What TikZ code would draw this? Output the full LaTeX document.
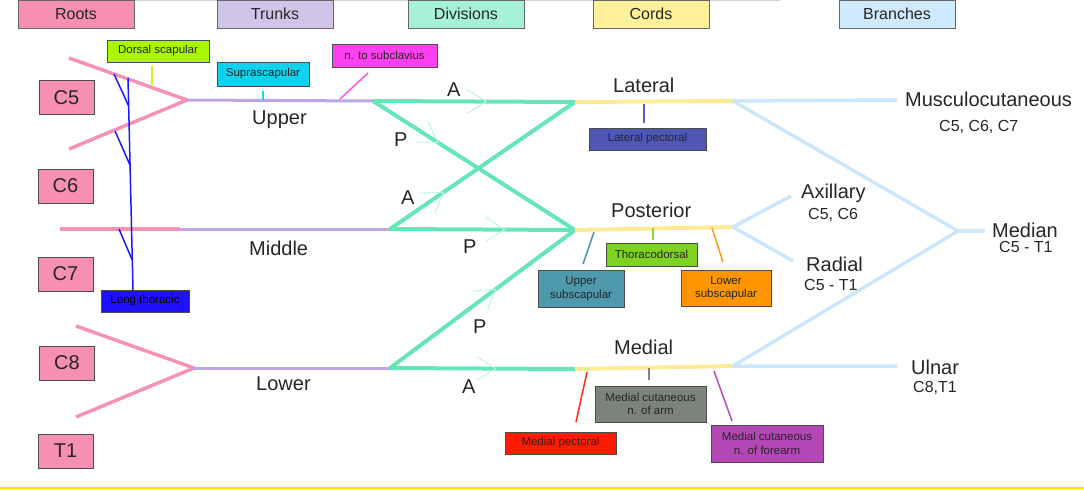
\documentclass[tikz,border=0pt]{standalone}
\usepackage{fontspec}
\setmainfont{Liberation Sans}
\usetikzlibrary{decorations.markings}

\definecolor{rosel}{HTML}{F592B5}
\definecolor{rosef}{HTML}{F78FB3}
\definecolor{mauvel}{HTML}{BBA8E2}
\definecolor{mauvef}{HTML}{D1C4E9}
\definecolor{vertl}{HTML}{66E6B8}
\definecolor{vertf}{HTML}{A6F2D6}
\definecolor{vertc}{HTML}{B9F6DF}
\definecolor{jaunel}{HTML}{FFEA96}
\definecolor{jaunef}{HTML}{FFF09A}
\definecolor{bleul}{HTML}{CCE7FB}
\definecolor{bleuf}{HTML}{CFE9FF}
\definecolor{filet}{HTML}{FFD800}
% nerfs collateraux
\definecolor{dsf}{HTML}{AAF700}
\definecolor{dsl}{HTML}{C8F528}
\definecolor{ssf}{HTML}{10D2EE}
\definecolor{ssl}{HTML}{22D3F0}
\definecolor{subf}{HTML}{FF40F0}
\definecolor{subl}{HTML}{FF55E6}
\definecolor{ltf}{HTML}{2010FF}
\definecolor{ltl}{HTML}{1A1AFF}
\definecolor{lpf}{HTML}{4F56B4}
\definecolor{lpl}{HTML}{5560C0}
\definecolor{tdf}{HTML}{7ED321}
\definecolor{tdl}{HTML}{86D93A}
\definecolor{usf}{HTML}{4E99AC}
\definecolor{usl}{HTML}{4A94AA}
\definecolor{lsf}{HTML}{FF9500}
\definecolor{lsl}{HTML}{FF9A1A}
\definecolor{mpf}{HTML}{FF1A00}
\definecolor{mpl}{HTML}{FF2A1A}
\definecolor{maf}{HTML}{7A847B}
\definecolor{mal}{HTML}{7D8680}
\definecolor{mff}{HTML}{B347B5}
\definecolor{mfl}{HTML}{B64DBE}

\tikzset{
  tete/.style={draw=black!60, line width=0.8pt, minimum width=116pt, minimum height=28pt, inner sep=0pt, font=\fontsize{16}{18}\selectfont, text=black!85},
  racine/.style={draw=black!70, fill=rosef, line width=0.8pt, minimum width=55pt, minimum height=34pt, inner sep=0pt, font=\fontsize{20}{22}\selectfont, text=black!85},
  nerf/.style={draw=black!70, line width=0.8pt, inner sep=0pt, align=center, font=\fontsize{11.5}{13.5}\selectfont, text=black!85},
  grand/.style={inner sep=0pt, anchor=base west, font=\fontsize{20}{22}\selectfont, text=black!85},
  petit/.style={inner sep=0pt, anchor=base west, font=\fontsize{16}{18}\selectfont, text=black!85},
  racl/.style={rosel, line width=3.5pt, line join=round},
  tronc/.style={mauvel, line width=3pt},
  divl/.style={vertl, line width=4pt},
  cordl/.style={jaunel, line width=4pt},
  branl/.style={bleul, line width=3.5pt, line join=round},
  lien/.style={line width=1.5pt},
  chev/.style={postaction={decorate, decoration={markings,
    mark=at position #1 with {\draw[vertc, line width=1pt] (-19pt,12pt) -- (0pt,0pt) -- (-19pt,-12pt);}}}}
}

\begin{document}
\begin{tikzpicture}[x=1pt, y=-1pt]
\useasboundingbox (0,0) rectangle (1084,490);
% filets
\draw[gray!35, line width=1pt] (18,0.5) -- (780,0.5);
\draw[filet, line width=2pt] (0,488) -- (1084,488);

% points de jonction
\coordinate (r5) at (69,58);
\coordinate (r6) at (69,149);
\coordinate (f1) at (187,100);
\coordinate (r7) at (60,229);
\coordinate (f2) at (180,229);
\coordinate (r8) at (76,326);
\coordinate (r1) at (76,417);
\coordinate (f3) at (194,368);
\coordinate (t1) at (373,101);
\coordinate (t2) at (390,229);
\coordinate (t3) at (390,368);
\coordinate (cl) at (575,102);
\coordinate (cp) at (575,230);
\coordinate (cm) at (575,369);
\coordinate (bl) at (733,101);
\coordinate (bp) at (733,227);
\coordinate (bm) at (733,366);
\coordinate (mc) at (897,100);
\coordinate (ax) at (791,196);
\coordinate (ra) at (793,261);
\coordinate (me) at (958,231);
\coordinate (me2) at (985,231);
\coordinate (ul) at (897,366);

% racines et troncs
\draw[racl] (r5) -- (f1) -- (r6);
\draw[racl] (r7) -- (f2);
\draw[racl] (r8) -- (f3) -- (r1);
\draw[tronc] (f1) -- (t1);
\draw[tronc] (f2) -- (t2);
\draw[tronc] (f3) -- (t3);

% divisions
\draw[divl, chev=0.56] (t1) -- (cl);
\draw[divl, chev=0.32] (t1) -- (cp);
\draw[divl, chev=0.29] (t2) -- (cl);
\draw[divl, chev=0.62] (t2) -- (cp);
\draw[divl, chev=0.57] (t3) -- (cp);
\draw[divl, chev=0.57] (t3) -- (cm);

% faisceaux
\draw[cordl] (cl) -- (bl);
\draw[cordl] (cp) -- (bp);
\draw[cordl] (cm) -- (bm);

% branches terminales
\draw[branl] (mc) -- (bl) -- (me);
\draw[branl] (ax) -- (bp) -- (ra);
\draw[branl] (ul) -- (bm) -- (me);
\draw[branl] (me) -- (me2);

% en-tetes
\node[tete, fill=rosef] (hroots) at (76,14) {Roots};
\node[tete, fill=mauvef] (htrunks) at (275,14) {Trunks};
\node[tete, fill=vertf] (hdiv) at (466,14) {Divisions};
\node[tete, fill=jaunef] (hcords) at (651,14) {Cords};
\node[tete, fill=bleuf] (hbranch) at (897,14) {Branches};

% racines
\node[racine] (c5) at (66.5,97.5) {C5};
\node[racine] (c6) at (65.5,186) {C6};
\node[racine] (c7) at (65.5,274) {C7};
\node[racine] (c8) at (67,363) {C8};
\node[racine] (tt1) at (65.5,451) {T1};

% noms des troncs, faisceaux, divisions
\node[grand] (lupper) at (252,124) {Upper};
\node[grand] (lmiddle) at (249,255) {Middle};
\node[grand] (llower) at (256,390) {Lower};
\node[grand] (llat) at (613,92) {Lateral};
\node[grand] (lpost) at (611,217) {Posterior};
\node[grand] (lmed) at (614,354) {Medial};
\node[grand] (da1) at (447,96) {A};
\node[grand] (dp1) at (394,146) {P};
\node[grand] (da2) at (401,204) {A};
\node[grand] (dp2) at (463,253) {P};
\node[grand] (dp3) at (473,333) {P};
\node[grand] (da3) at (462,393) {A};

% branches
\node[grand] (nmusc) at (905,106) {Musculocutaneous};
\node[petit] (smusc) at (939,131) {C5, C6, C7};
\node[grand] (nax) at (801,198) {Axillary};
\node[petit] (sax) at (808,219) {C5, C6};
\node[grand] (nrad) at (806,271) {Radial};
\node[petit] (srad) at (804,290) {C5 - T1};
\node[grand] (nmed) at (992,237) {Median};
\node[petit] (smed) at (999,252) {C5 - T1};
\node[grand] (nuln) at (911,374) {Ulnar};
\node[petit] (suln) at (913,392) {C8,T1};

% nerfs collateraux
\node[nerf, fill=dsf, minimum width=102pt, minimum height=22pt] (ds) at (158,51) {Dorsal scapular};
\node[nerf, fill=ssf, minimum width=92pt, minimum height=24pt] (ss) at (263,74) {Suprascapular};
\node[nerf, fill=subf, minimum width=105pt, minimum height=23pt] (sub) at (384.5,55.5) {n. to subclavius};
\node[nerf, fill=ltf, text=black, minimum width=88pt, minimum height=22pt] (lt) at (145,301) {Long thoracic};
\node[nerf, fill=lpf, minimum width=117pt, minimum height=22pt] (lp) at (647.5,139) {Lateral pectoral};
\node[nerf, fill=tdf, minimum width=91pt, minimum height=23pt] (td) at (651.5,254.5) {Thoracodorsal};
\node[nerf, fill=usf, minimum width=86pt, minimum height=37pt] (us) at (581,288.5) {Upper\\subscapular};
\node[nerf, fill=lsf, minimum width=90pt, minimum height=36pt] (ls) at (726,288) {Lower\\subscapular};
\node[nerf, fill=mpf, minimum width=111pt, minimum height=22pt] (mp) at (560.5,443) {Medial pectoral};
\node[nerf, fill=maf, minimum width=111pt, minimum height=36pt] (mca) at (650.5,404) {Medial cutaneous\\n. of arm};
\node[nerf, fill=mff, minimum width=112pt, minimum height=37pt] (mcf) at (767,443.5) {Medial cutaneous\\n. of forearm};

% liens
\coordinate (dsp) at (152,85);
\coordinate (ssp) at (263,100);
\coordinate (subp) at (340,99);
\coordinate (subq) at (368,73);
\coordinate (lpp) at (644,104);
\coordinate (tdp) at (653,228);
\coordinate (usp) at (594,232);
\coordinate (usq) at (583,264);
\coordinate (lsp) at (712,228);
\coordinate (lsq) at (723,262);
\coordinate (mpp) at (587,372);
\coordinate (mpq) at (576,422);
\coordinate (mcap) at (649,368);
\coordinate (mcfp) at (714,371);
\coordinate (mcfq) at (732,421);
\draw[lien, dsl, shorten >=4pt] (dsp) -- (dsp |- ds.south);
\draw[lien, ssl, shorten >=5pt] (ssp) -- (ssp |- ss.south);
\draw[lien, subl] (subp) -- (subq);
\draw[lien, lpl, shorten >=5pt] (lpp) -- (lpp |- lp.north);
\draw[lien, tdl, shorten >=3pt] (tdp) -- (tdp |- td.north);
\draw[lien, usl] (usp) -- (usq);
\draw[lien, lsl] (lsp) -- (lsq);
\draw[lien, mpl] (mpp) -- (mpq);
\draw[lien, mal, shorten >=6pt] (mcap) -- (mcap |- mca.north);
\draw[lien, mfl] (mcfp) -- (mcfq);

% thoracique long
\coordinate (lt0) at (128,78);
\coordinate (lt1) at (133,290);
\coordinate (b5a) at (114,74);
\coordinate (b5b) at (128.7,106);
\coordinate (b6a) at (115,131);
\coordinate (b6b) at (130,165);
\coordinate (b7a) at (119,229);
\coordinate (b7b) at (132.2,260);
\draw[lien, ltl] (lt0) -- (lt1);
\draw[lien, ltl] (b5a) -- (b5b);
\draw[lien, ltl] (b6a) -- (b6b);
\draw[lien, ltl] (b7a) -- (b7b);
\end{tikzpicture}
\end{document}
